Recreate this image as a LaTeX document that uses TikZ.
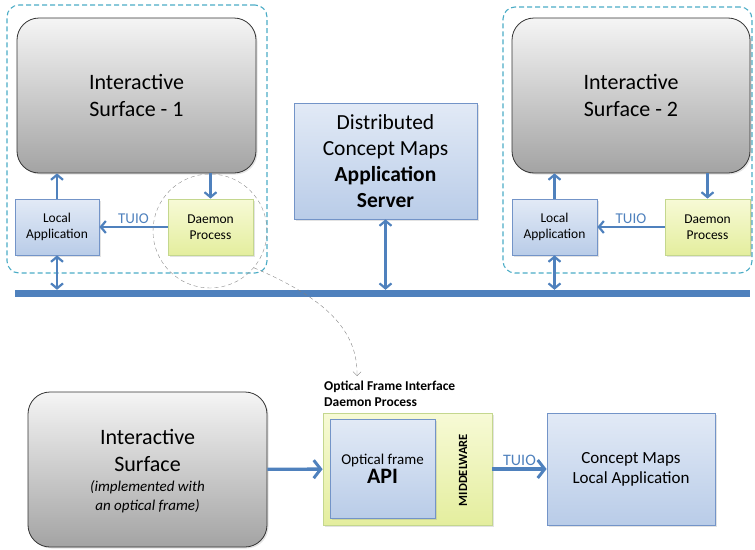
\documentclass[tikz,border=0pt]{standalone}
\usepackage{fontspec}
\setmainfont{Carlito}
\usetikzlibrary{arrows.meta,positioning,shadows}
\definecolor{linkblue}{HTML}{4F81BD}
\definecolor{boxblue}{HTML}{7394C8}
\definecolor{paleblue}{HTML}{E2EAF6}
\definecolor{midblue}{HTML}{B9CCE8}
\definecolor{groupcyan}{HTML}{4BACC6}
\definecolor{palelime}{HTML}{F7FAD6}
\definecolor{lime}{HTML}{E4EE9E}
\definecolor{limeedge}{HTML}{C4D78E}

\begin{document}
\begin{tikzpicture}[
  x=1pt, y=-1pt,
  softshadow/.style={drop shadow={opacity=0.22, shadow xshift=1.5pt, shadow yshift=-1.5pt}},
  surface/.style={rectangle, rounded corners=22pt, draw=black!80, thick, top color=black!4, bottom color=black!36, align=center, softshadow, font=\fontsize{22}{27}\selectfont},
  bluebox/.style={rectangle, draw=boxblue, thick, top color=paleblue, bottom color=midblue, align=center, softshadow, inner sep=2pt},
  daemon/.style={rectangle, draw=limeedge, thick, top color=palelime, bottom color=lime, align=center, softshadow, inner sep=2pt},
  small/.style={font=\fontsize{13.5}{16}\selectfont},
  group/.style={rectangle, rounded corners=12pt, draw=groupcyan, line width=1.1pt, dash pattern=on 5pt off 3pt},
  bus/.style={rectangle, fill=linkblue, inner sep=0pt},
  link/.style={draw=linkblue, line width=2.6pt, -{Straight Barb[length=5pt, width=12pt, line width=2.2pt]}},
  duplex/.style={link, {Straight Barb[length=5pt, width=12pt, line width=2.2pt]}-{Straight Barb[length=5pt, width=12pt, line width=2.2pt]}},
  biglink/.style={draw=linkblue, line width=3.4pt, -{Straight Barb[length=7pt, width=18pt, line width=3pt]}},
  tuio/.style={text=linkblue, inner sep=2pt}
]
\useasboundingbox (0,0) rectangle (755,549);

% workstation 1
\node[group, minimum width=260pt, minimum height=268pt] (grp1) at (137,139) {};
\node[surface, minimum width=239pt, minimum height=155pt] (surf1) at (136.5,95.5) {Interactive\\Surface - 1};
\node[bluebox, small, minimum width=84pt, minimum height=56pt] (lapp1) at (57,227) {Local\\Application};
\node[daemon, small, minimum width=85pt, minimum height=56pt] (dmn1) at (210.5,227) {Daemon\\Process};

% workstation 2
\node[group, minimum width=249pt, minimum height=266pt] (grp2) at (627.5,140) {};
\node[surface, minimum width=238pt, minimum height=155pt] (surf2) at (631,95.5) {Interactive\\Surface - 2};
\node[bluebox, small, minimum width=85pt, minimum height=56pt] (lapp2) at (554.5,227) {Local\\Application};
\node[daemon, small, minimum width=85pt, minimum height=56pt] (dmn2) at (707.5,227) {Daemon\\Process};

% server and shared bus
\node[bluebox, minimum width=183pt, minimum height=116pt, font=\fontsize{21.5}{26}\selectfont] (server) at (385.5,161) {Distributed\\Concept Maps\\\textbf{Application}\\\textbf{Server}};
\node[bus, minimum width=735pt, minimum height=7pt] (bus) at (382.5,293.5) {};

\draw[link] (lapp1) -- (lapp1 |- surf1.south);
\draw[link] (dmn1 |- surf1.south) -- (dmn1);
\draw[link] (dmn1) -- node[tuio, above, font=\fontsize{15}{18}\selectfont] {TUIO} (lapp1);
\draw[duplex] (lapp1.south) -- (lapp1.south |- bus.north);

\draw[link] (lapp2) -- (lapp2 |- surf2.south);
\draw[link] (dmn2 |- surf2.south) -- (dmn2);
\draw[link] (dmn2) -- node[tuio, above, font=\fontsize{15}{18}\selectfont] {TUIO} (lapp2);
\draw[duplex] (lapp2.south) -- (lapp2.south |- bus.north);

\draw[duplex] (server.south) -- (server.south |- bus.north);

% zoom onto the daemon
\node[circle, draw=black!45, thin, dash pattern=on 4pt off 3pt, minimum size=114pt] (ring) at (210,231) {};

% detail of the optical frame daemon
\node[surface, minimum width=239pt, minimum height=155pt, text depth=-2pt] (bsurf) at (147.5,469.5) {Interactive\\Surface\\[-7pt]\fontsize{15}{19}\selectfont\itshape (implemented with\\[-8pt]\fontsize{15}{19}\selectfont\itshape an optical frame)};
\node[daemon, minimum width=169pt, minimum height=112pt] (mw) at (407.5,469) {};
\node[bluebox, minimum width=105pt, minimum height=99pt] (api) at (382.5,468.5) {\fontsize{15}{18}\selectfont Optical frame\\[1pt]\fontsize{22}{24}\selectfont\bfseries API};
\node[rotate=90, font=\fontsize{12.5}{14}\selectfont\bfseries] (mwlabel) at (463,470) {MIDDELWARE};
\node[anchor=south west, align=left, inner sep=0pt, font=\fontsize{13.5}{16}\selectfont\bfseries] (ofi) at (324,407) {Optical Frame Interface\\Daemon Process};
\node[bluebox, minimum width=168pt, minimum height=112pt, font=\fontsize{17}{20}\selectfont] (cmap) at (631,469) {Concept Maps\\Local Application};

\coordinate (tip) at (357,376);
\draw[black!50, thin, dash pattern=on 4pt off 3pt, -{Straight Barb[length=4pt, width=8pt]}] (ring.-40) .. controls (325,298) and (358,330) .. (tip);

\draw[biglink] (bsurf) -- (mw);
\draw[biglink] (mw) -- node[tuio, above, font=\fontsize{16}{18}\selectfont] {TUIO} (cmap);
\end{tikzpicture}
\end{document}
